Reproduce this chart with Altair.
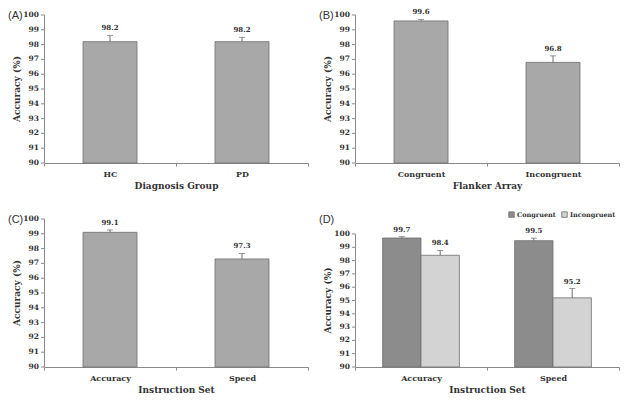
import altair as alt
import pandas as pd

# ---------------- data ----------------
a_groups = ["HC", "PD"]
a_means = [98.2, 98.2]
a_sem = [0.42, 0.29]

b_groups = ["Congruent", "Incongruent"]
b_means = [99.6, 96.8]
b_sem = [0.10, 0.44]

c_groups = ["Accuracy", "Speed"]
c_means = [99.1, 97.3]
c_sem = [0.16, 0.37]

d_instr = ["Accuracy", "Accuracy", "Speed", "Speed"]
d_flanker = ["Congruent", "Incongruent", "Congruent", "Incongruent"]
d_means = [99.7, 98.4, 99.5, 95.2]
d_sem = [0.10, 0.36, 0.19, 0.70]

y_ticks = list(range(90, 101))
y_span = [90, 100]
y_title = "Accuracy (%)"
flanker_levels = ["Congruent", "Incongruent"]
instr_levels = ["Accuracy", "Speed"]

# ---------------- style ----------------
SERIF = "DejaVu Serif"
SANS = "Liberation Sans"
BAR_FILL = "#a8a8a8"
D_COLORS = ["#8c8c8c", "#d3d3d3"]
EDGE = "#6e6e6e"
AXIS = "#8a8a8a"
TEXT = "#333333"

W = 264
H = 148
TAG_X = -36
D_GAP = 15          # px kept free above 100 in panel D (legend room)
D_TOP = 100 + D_GAP / ((H - D_GAP) / 10.0)


def yq(field, top):
    return alt.Y(field, scale=alt.Scale(domain=[90, top], nice=False, zero=False),
                 axis=None)


def x_axis():
    return alt.Axis(labelAngle=0, tickBand="extent", labelOverlap=False)


def tag_layer(tag, y):
    return alt.Chart(pd.DataFrame({"t": [tag]})).mark_text(
        font=SANS, fontSize=11, align="left", baseline="middle", color=TEXT
    ).encode(x=alt.value(TAG_X), y=alt.value(y), text="t:N")


def y_guide(top, title_y):
    """Left value axis drawn from the y scale: line, ticks, labels, title."""
    span = pd.DataFrame({"lo": [y_span[0]], "hi": [y_span[1]]})
    ticks = pd.DataFrame({"v": y_ticks})
    line = alt.Chart(span).mark_rule(color=AXIS, strokeWidth=1).encode(
        x=alt.value(0.5), y=yq("lo:Q", top), y2="hi:Q")
    tk = alt.Chart(ticks).mark_rule(color=AXIS, strokeWidth=1).encode(
        x=alt.value(-3), x2=alt.value(0.5), y=yq("v:Q", top))
    lb = alt.Chart(ticks).mark_text(
        font=SERIF, fontWeight="bold", fontSize=7.5, color=TEXT,
        align="right", baseline="middle").encode(
        x=alt.value(-5), y=yq("v:Q", top), text=alt.Text("v:Q", format="d"))
    tt = alt.Chart(pd.DataFrame({"t": [y_title]})).mark_text(
        font=SERIF, fontWeight="bold", fontSize=9, color=TEXT, angle=270,
        align="center", baseline="middle").encode(
        x=alt.value(-27), y=alt.value(title_y), text="t:N")
    return [line, tk, lb, tt]


def simple_panel(groups, means, sem, xtitle, tag):
    df = pd.DataFrame({"g": groups, "mean": means, "sem": sem})
    base = alt.Chart(df).transform_calculate(top="datum.mean + datum.sem")
    x = alt.X("g:N", sort=groups, title=xtitle,
              scale=alt.Scale(paddingInner=0, paddingOuter=0), axis=x_axis())
    bars = base.mark_bar(size=54, fill=BAR_FILL, stroke=EDGE, strokeWidth=0.8).encode(
        x=x, y=yq("mean:Q", 100), y2=alt.datum(90))
    rule = base.mark_rule(color=EDGE, strokeWidth=1).encode(
        x=x, y=yq("mean:Q", 100), y2="top:Q")
    cap = base.mark_tick(color=EDGE, size=6, thickness=1).encode(
        x=x, y=yq("top:Q", 100))
    lab = base.mark_text(font=SERIF, fontWeight="bold", fontSize=7, color=TEXT,
                         baseline="bottom", dy=-4).encode(
        x=x, y=yq("top:Q", 100), text=alt.Text("mean:Q", format=".1f"))
    layers = [bars, rule, cap, lab] + y_guide(100, H / 2) + [tag_layer(tag, 1)]
    return alt.layer(*layers).properties(width=W, height=H)


pa = simple_panel(a_groups, a_means, a_sem, "Diagnosis Group", "(A)")
pb = simple_panel(b_groups, b_means, b_sem, "Flanker Array", "(B)")
pc = simple_panel(c_groups, c_means, c_sem, "Instruction Set", "(C)")

# panel D
ddf = pd.DataFrame({"instr": d_instr, "flanker": d_flanker, "mean": d_means, "sem": d_sem})
dbase = alt.Chart(ddf).transform_calculate(top="datum.mean + datum.sem")
dx = alt.X("instr:N", sort=instr_levels, title="Instruction Set",
           scale=alt.Scale(paddingInner=0, paddingOuter=0), axis=x_axis())
dxo = alt.XOffset("flanker:N", sort=flanker_levels,
                  scale=alt.Scale(paddingInner=0, paddingOuter=0.72))
dcolor = alt.Color(
    "flanker:N",
    scale=alt.Scale(domain=flanker_levels, range=D_COLORS),
    legend=alt.Legend(
        title=None, orient="none", direction="horizontal", legendX=153, legendY=-8,
        symbolType="square", symbolSize=30, symbolStrokeColor=EDGE, symbolStrokeWidth=0.8,
        labelFont=SERIF, labelFontWeight="bold", labelFontSize=6.5, labelColor=TEXT,
        labelOffset=2, columnPadding=4, padding=0,
    ),
)
dbars = dbase.mark_bar(stroke=EDGE, strokeWidth=0.8).encode(
    x=dx, xOffset=dxo, y=yq("mean:Q", D_TOP), y2=alt.datum(90), color=dcolor)
drule = dbase.mark_rule(color=EDGE, strokeWidth=1).encode(
    x=dx, xOffset=dxo, y=yq("mean:Q", D_TOP), y2="top:Q")
dcap = dbase.mark_tick(color=EDGE, size=6, thickness=1).encode(
    x=dx, xOffset=dxo, y=yq("top:Q", D_TOP))
dlab = dbase.mark_text(font=SERIF, fontWeight="bold", fontSize=7, color=TEXT,
                       baseline="bottom", dy=-4).encode(
    x=dx, xOffset=dxo, y=yq("top:Q", D_TOP), text=alt.Text("mean:Q", format=".1f"))
d_layers = [dbars, drule, dcap, dlab] + y_guide(D_TOP, D_GAP + (H - D_GAP) / 2) + [tag_layer("(D)", 1)]
pd_ = alt.layer(*d_layers).properties(width=W, height=H)

row1 = alt.hconcat(pa, pb, spacing=10)
row2 = alt.hconcat(pc, pd_, spacing=10).resolve_scale(color="independent").resolve_legend(color="independent")

chart = (
    alt.vconcat(row1, row2, spacing=21)
    .resolve_scale(color="independent")
    .resolve_legend(color="independent")
    .properties(padding=0, background="white")
    .configure_view(stroke=None)
    .configure_axis(
        domainColor=AXIS, tickColor=AXIS, grid=False, tickSize=3,
        labelFont=SERIF, labelFontWeight="bold", labelColor=TEXT,
        titleFont=SERIF, titleFontWeight="bold", titleColor=TEXT,
    )
    .configure_axisX(labelFontSize=8, titleFontSize=9, labelPadding=4, titlePadding=3)
)

chart.save("out.html", embed_options={"renderer": "svg", "actions": False})
